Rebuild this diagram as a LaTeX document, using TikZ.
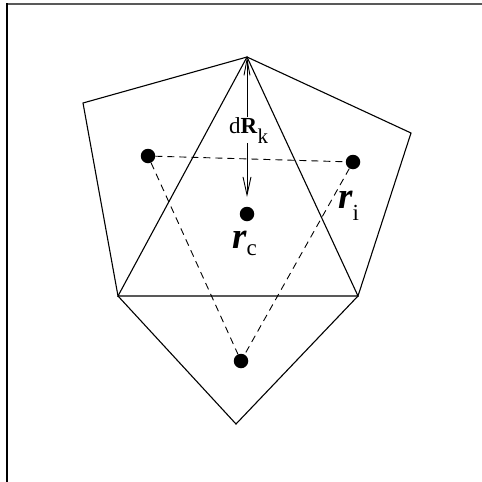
\documentclass[tikz,border=0pt]{standalone}
\usepackage{fontspec}
\setmainfont{Liberation Serif}
\usetikzlibrary{arrows.meta}
\begin{document}
\begin{tikzpicture}[x=1pt,y=-1pt,
  edge/.style={line width=1.1pt,line join=miter},
  dashline/.style={line width=0.9pt,dash pattern=on 7pt off 5pt},
  dot/.style={circle,fill=black,inner sep=0pt,minimum size=14.5pt}]
\useasboundingbox (0,0) rectangle (482,482);
% frame
\draw[line width=1.6pt,black!65] (6.5,3.8) -- (482,3.8);
\draw[line width=1.6pt,black] (7,3) -- (7,482);
% vertices
\coordinate (T) at (247,57);
\coordinate (L) at (83,103);
\coordinate (R) at (411,133);
\coordinate (BL) at (118,296);
\coordinate (BR) at (358,296);
\coordinate (B) at (236,424);
% polygon and triangle
\draw[edge] (T) -- (L) -- (BL) -- (B) -- (BR) -- (R) -- cycle;
\draw[edge] (T) -- (BL) -- (BR) -- cycle;
% dots
\node[dot] (d1) at (148,156) {};
\node[dot] (d2) at (353,162) {};
\node[dot] (dc) at (247,214) {};
\node[dot] (d3) at (241,361) {};
% dashed triangle
\draw[dashline] (d1) -- (d2);
\draw[dashline] (d1) -- (d3);
\draw[dashline] (d2) -- (d3);
% arrow
\coordinate (AE) at (247,197);
\draw[line width=0.9pt,{Straight Barb[length=16pt,width=6pt]}-{Straight Barb[length=18pt,width=8pt]}] (T) -- (AE);
\node[fill=white,inner sep=0pt,anchor=base west] (dR) at (229,133)
  {\fontsize{23}{23}\selectfont d\textbf{R}\raisebox{-10pt}{\fontsize{21}{21}\selectfont k}};
% labels
\node[inner sep=0pt,anchor=base west] (rc) at (232,248)
  {\fontsize{37}{37}\selectfont\bfseries\itshape r\raisebox{-7pt}{\fontsize{23}{23}\selectfont\mdseries\upshape c}};
\node[inner sep=0pt,anchor=base west] (ri) at (338,208)
  {\fontsize{37}{37}\selectfont\bfseries\itshape r\raisebox{-12pt}{\fontsize{23}{23}\selectfont\mdseries\upshape i}};
\end{tikzpicture}
\end{document}
